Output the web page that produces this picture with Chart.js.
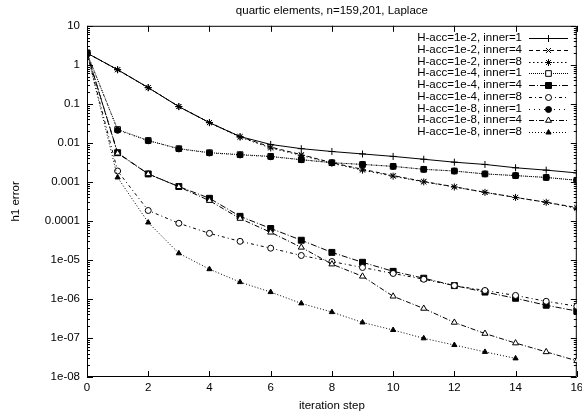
<!DOCTYPE html>
<html>
<head>
<meta charset="utf-8">
<script src="https://cdn.jsdelivr.net/npm/chart.js@4/dist/chart.umd.min.js"></script>
<style>
  html, body { margin: 0; padding: 0; background: #fff; }
  canvas { display: block; }
</style>
</head>
<body>
<canvas id="errChart" width="582" height="417"></canvas>
<script>
// iteration steps and h1 error per run
const steps = [0, 1, 2, 3, 4, 5, 6, 7, 8, 9, 10, 11, 12, 13, 14, 15, 16];
const yTicks = [1e-8, 1e-7, 1e-6, 1e-5, 1e-4, 1e-3, 1e-2, 1e-1, 1, 10];
const xTicks = [0, 2, 4, 6, 8, 10, 12, 14, 16];

const acc2inner1 = [2.0, 0.75, 0.26, 0.085, 0.033, 0.0145, 0.0091, 0.0071, 0.006, 0.0052, 0.0045, 0.0038, 0.0032, 0.0028, 0.0023, 0.002, 0.0017];
const acc2inner4 = [2.0, 0.75, 0.26, 0.085, 0.033, 0.0145, 0.0078, 0.005, 0.0031, 0.0021, 0.00145, 0.00102, 0.00075, 0.00054, 0.0004, 0.0003, 0.00022];
const acc2inner8 = [2.0, 0.75, 0.26, 0.085, 0.033, 0.014, 0.0074, 0.0048, 0.003, 0.002, 0.0014, 0.001, 0.00074, 0.00054, 0.0004, 0.0003, 0.00021];
const acc4inner1 = [2.0, 0.022, 0.0115, 0.0071, 0.0056, 0.005, 0.0045, 0.0037, 0.0031, 0.0028, 0.0025, 0.0021, 0.0019, 0.0016, 0.00145, 0.0013, 0.0011];
const acc4inner4 = [2.0, 0.0056, 0.0016, 0.00076, 0.00038, 0.000131, 6.4e-5, 3.2e-5, 1.56e-5, 8.7e-6, 5.1e-6, 3.4e-6, 2.2e-6, 1.5e-6, 1.04e-6, 6.9e-7, 4.9e-7];
const acc4inner8 = [2.0, 0.0019, 0.000185, 8.7e-5, 4.8e-5, 3.0e-5, 2.0e-5, 1.3e-5, 9.1e-6, 6.4e-6, 4.5e-6, 3.2e-6, 2.2e-6, 1.65e-6, 1.23e-6, 8.7e-7, 6.5e-7];
const acc8inner1 = [2.0, 0.021, 0.0113, 0.007, 0.0055, 0.0049, 0.0044, 0.0037, 0.0031, 0.0028, 0.0025, 0.0021, 0.0019, 0.0016, 0.00145, 0.0013, 0.0011];
const acc8inner4 = [2.0, 0.0054, 0.0016, 0.00075, 0.00033, 0.000115, 5.1e-5, 2.1e-5, 7.8e-6, 3.8e-6, 1.17e-6, 5.7e-7, 2.5e-7, 1.3e-7, 7.4e-8, 4.4e-8, 2.6e-8];
const acc8inner8 = [2.0, 0.0013, 9.1e-5, 1.48e-5, 5.8e-6, 2.7e-6, 1.5e-6, 7.7e-7, 4.6e-7, 2.5e-7, 1.6e-7, 9.8e-8, 6.6e-8, 4.4e-8, 3.0e-8];

const FONT = '"Liberation Sans", Arial, sans-serif';
let nSerie = 0;

function serie(label, values, dash, style, radius, filled) {
    nSerie++;
    return {
        label: label,
        data: values.map((v, i) => ({ x: steps[i], y: v })),
        order: 20 - nSerie, // later curves on top, like gnuplot
        borderColor: '#000',
        borderWidth: 1,
        borderDash: dash,
        pointStyle: style,
        pointRadius: radius,
        pointBorderWidth: 1,
        pointBorderColor: '#000',
        pointBackgroundColor: filled ? '#000' : '#fff',
        tension: 0
    };
}

function yLabel(v) {
    const e = Math.round(Math.log10(v));
    if (e >= 0) return String(Math.pow(10, e));
    if (e >= -4) return Math.pow(10, e).toFixed(-e);
    return '1e-0' + (-e);
}

// gnuplot style frame with inward ticks on all four sides
const frame = {
    id: 'frame',
    beforeDatasetsDraw(chart) {
        const { ctx, chartArea: a, scales } = chart;
        ctx.save();
        ctx.strokeStyle = '#000';
        ctx.lineWidth = 1;
        ctx.beginPath();
        ctx.rect(a.left + 0.5, a.top + 0.5, a.right - a.left - 1, a.bottom - a.top - 1);
        xTicks.forEach(t => {
            const px = Math.round(scales.x.getPixelForValue(t)) + 0.5;
            ctx.moveTo(px, a.bottom); ctx.lineTo(px, a.bottom - 6);
            ctx.moveTo(px, a.top); ctx.lineTo(px, a.top + 6);
        });
        for (let e = -8; e <= 1; e++) {
            for (let k = 1; k <= 9; k++) {
                const v = k * Math.pow(10, e);
                if (v > 10 || v < 1e-8) continue;
                const len = k === 1 ? 6 : 3;
                const py = Math.round(scales.y.getPixelForValue(v)) + 0.5;
                ctx.moveTo(a.left, py); ctx.lineTo(a.left + len, py);
                ctx.moveTo(a.right, py); ctx.lineTo(a.right - len, py);
            }
        }
        ctx.stroke();
        ctx.restore();
    }
};

// legend: right-aligned text with line sample on its right
const keyBox = {
    id: 'keyBox',
    afterDraw(chart) {
        const ctx = chart.ctx;
        const textRight = 522, x0 = 529, x1 = 568, top = 38, step = 11.75;
        ctx.save();
        ctx.font = '11.5px ' + FONT;
        ctx.fillStyle = '#000';
        ctx.textAlign = 'right';
        ctx.textBaseline = 'middle';
        chart.data.datasets.forEach((ds, i) => {
            const y = top + i * step;
            ctx.fillText(ds.label, textRight, y);
            ctx.strokeStyle = '#000';
            ctx.lineWidth = 1;
            ctx.setLineDash(ds.borderDash);
            ctx.beginPath();
            ctx.moveTo(x0, Math.round(y) + 0.5);
            ctx.lineTo(x1, Math.round(y) + 0.5);
            ctx.stroke();
            ctx.setLineDash([]);
            ctx.fillStyle = ds.pointBackgroundColor;
            const opts = { pointStyle: ds.pointStyle, radius: ds.pointRadius, borderWidth: 1, rotation: 0 };
            Chart.helpers.drawPoint(ctx, opts, (x0 + x1) / 2, Math.round(y) + 0.5);
            ctx.fillStyle = '#000';
        });
        ctx.restore();
    }
};

document.addEventListener('DOMContentLoaded', function () {
    const ctx = document.getElementById('errChart').getContext('2d');
    new Chart(ctx, {
        type: 'line',
        data: {
            datasets: [
                serie('H-acc=1e-2, inner=1', acc2inner1, [], 'cross', 3.5, false),
                serie('H-acc=1e-2, inner=4', acc2inner4, [4, 3], 'crossRot', 3.5, false),
                serie('H-acc=1e-2, inner=8', acc2inner8, [1.5, 2.5], 'star', 3.5, false),
                serie('H-acc=1e-4, inner=1', acc4inner1, [1, 1], 'rect', 4, false),
                serie('H-acc=1e-4, inner=4', acc4inner4, [6, 2, 1, 2], 'rect', 4.2, true),
                serie('H-acc=1e-4, inner=8', acc4inner8, [3, 3, 1, 3], 'circle', 3, false),
                serie('H-acc=1e-8, inner=1', acc8inner1, [1, 4], 'circle', 3, true),
                serie('H-acc=1e-8, inner=4', acc8inner4, [5, 2, 1, 2], 'triangle', 3.5, false),
                serie('H-acc=1e-8, inner=8', acc8inner8, [1, 2], 'triangle', 3, true)
            ]
        },
        options: {
            responsive: false,
            animation: false,
            layout: { padding: { left: 0, right: 3, top: 0, bottom: 0 } },
            scales: {
                x: {
                    type: 'linear',
                    min: 0,
                    max: 16,
                    afterBuildTicks: s => { s.ticks = xTicks.map(v => ({ value: v })); },
                    afterFit: s => { s.height = 40; s.paddingRight = 0; s.paddingLeft = 0; },
                    grid: { display: false, drawTicks: false },
                    border: { display: false },
                    ticks: { color: '#000', font: { family: FONT, size: 11.5 }, padding: 4, maxRotation: 0, autoSkip: false },
                    title: { display: true, text: 'iteration step', color: '#000', font: { family: FONT, size: 11.5 }, padding: { top: 0, bottom: 4 } }
                },
                y: {
                    type: 'logarithmic',
                    min: 1e-8,
                    max: 10,
                    afterBuildTicks: s => { s.ticks = yTicks.map(v => ({ value: v })); },
                    afterFit: s => { s.width = 87; },
                    grid: { display: false, drawTicks: false },
                    border: { display: false },
                    ticks: { color: '#000', font: { family: FONT, size: 11.5 }, padding: 7, autoSkip: false, callback: v => yLabel(v) },
                    title: { display: true, text: 'h1 error', color: '#000', font: { family: FONT, size: 11.5 }, padding: { top: 9, bottom: 0 } }
                }
            },
            plugins: {
                legend: { display: false },
                tooltip: { enabled: false },
                title: {
                    display: true,
                    fullSize: false,
                    text: 'quartic elements, n=159,201, Laplace',
                    color: '#000',
                    font: { family: FONT, size: 11.5, weight: 'normal' },
                    padding: { top: 4, bottom: 8 }
                }
            }
        },
        plugins: [frame, keyBox]
    });
});
</script>
</body>
</html>
